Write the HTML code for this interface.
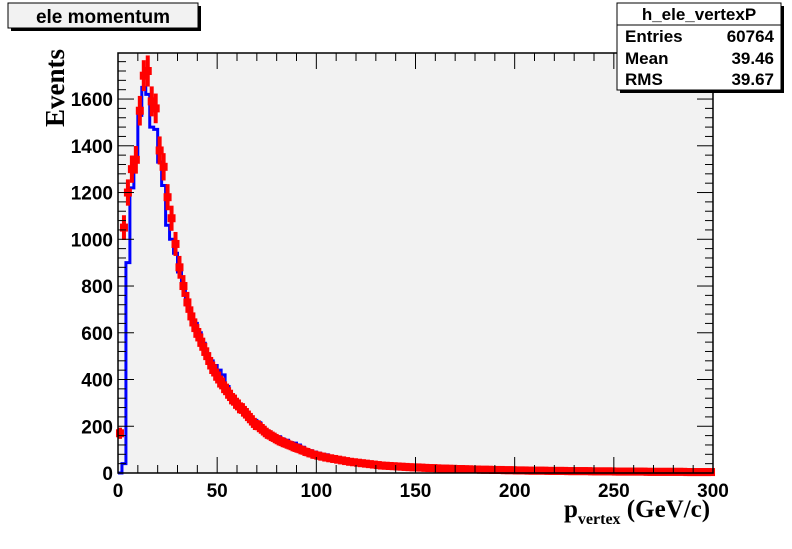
<!DOCTYPE html>
<html><head><meta charset="utf-8"><style>
body{margin:0;background:#fff;width:792px;height:544px;overflow:hidden;font-family:"Liberation Sans",sans-serif}
svg text{font-family:"Liberation Sans",sans-serif;font-weight:bold}
</style></head><body>
<svg id="c" width="792" height="544" xmlns="http://www.w3.org/2000/svg">
<rect x="0" y="0" width="792" height="544" fill="#fff"/>
<rect x="118" y="53" width="595" height="420" fill="#f2f2f2"/>
<g id="marks"></g>
<g id="axes"></g>
<rect x="118" y="53" width="595" height="420" fill="none" stroke="#000" stroke-width="1.5"/>
<g>
<rect x="11" y="6" width="190" height="25" fill="#000"/>
<rect x="8" y="3" width="190" height="25" fill="#f2f2f2" stroke="#000"/>
<text x="103" y="23" font-size="19" text-anchor="middle">ele momentum</text>
</g>
<g>
<rect x="620" y="6" width="164" height="87" fill="#000"/>
<rect x="617" y="3" width="164" height="87" fill="#fff" stroke="#000"/>
<line x1="617" y1="25" x2="781" y2="25" stroke="#000"/>
<text x="699" y="20" font-size="17" text-anchor="middle">h_ele_vertexP</text>
<text x="625" y="42" font-size="17">Entries</text><text x="774" y="42" font-size="17" text-anchor="end">60764</text>
<text x="625" y="64" font-size="17">Mean</text><text x="774" y="64" font-size="17" text-anchor="end">39.46</text>
<text x="625" y="85" font-size="17">RMS</text><text x="774" y="85" font-size="17" text-anchor="end">39.67</text>
</g>
<text transform="translate(64,88) rotate(-90)" font-size="27" text-anchor="middle" style="font-family:'Liberation Serif',serif;font-weight:bold">Events</text>
<text x="564" y="517" font-size="25" style="font-family:'Liberation Serif',serif;font-weight:bold">p<tspan font-size="16" dy="7">vertex</tspan><tspan dy="-7"> (GeV/c)</tspan></text>
</svg>
<script>
const binWidth = 2;
const xTicks = [0,50,100,150,200,250,300];
const yTicks = [0,200,400,600,800,1000,1200,1400,1600];
const blueValues = [0,40,900,1220,1350,1530,1650,1620,1480,1470,1330,1230,1060,1000,940,860,800,720,680,640,600,555,510,480,460,440,420,370,330,310,290,280,260,240,225,215,195,180,170,160,155,145,140,130,128,120,110,100,95,90,85,80,78,72,68,62,58,55,50,48,45,42,40,38,36,34,32,31,30,29,28,27,26,26,25,24,24,23,22,22,21,20,20,19,19,18,18,17,17,16,16,15,15,15,14,14,14,13,13,13,12,12,12,11,11,11,11,10,10,10,10,10,9,9,9,9,9,8,8,8,8,8,8,7,7,7,7,7,7,6,6,6,6,6,6,6,5,5,5,5,5,5,5,5,5,4,4,4,4,4];
const redValues = [170,1050,1200,1300,1340,1550,1700,1720,1590,1560,1380,1310,1180,1090,980,880,800,730,670,620,580,540,500,460,430,400,375,350,325,305,285,270,250,230,210,200,185,170,160,150,140,132,125,118,110,104,97,90,84,78,74,70,66,63,60,57,54,51,48,46,44,42,40,38,36,34,32,31,30,29,28,27,26,25,24,24,23,22,21,21,20,19,19,18,18,17,17,16,16,15,15,14,14,14,13,13,13,12,12,12,11,11,11,10,10,10,10,10,9,9,9,9,9,8,8,8,8,8,8,7,7,7,7,7,7,6,6,6,6,6,6,6,6,5,5,5,5,5,5,5,5,5,5,4,4,4,4,4,4,4];
const X0=118,X1=713,Y0=473,Y1=53,XMAX=300,YMAX=1797;
function xs(v){return X0+(v/XMAX)*(X1-X0);}
function ys(v){return Y0-(v/YMAX)*(Y0-Y1);}
const NS="http://www.w3.org/2000/svg";
const marks=document.getElementById('marks'), axes=document.getElementById('axes');
function mk(tag,attrs,parent){const e=document.createElementNS(NS,tag);for(const k in attrs)e.setAttribute(k,attrs[k]);parent.appendChild(e);return e;}
let d="M"+xs(0)+","+ys(0);
blueValues.forEach((v,i)=>{d+=" L"+xs(i*binWidth)+","+ys(v)+" L"+xs((i+1)*binWidth)+","+ys(v);});
const bl=mk('path',{d:d,fill:'none',stroke:'#0000ff','stroke-width':3},marks);


redValues.forEach((v,i)=>{
  const cx=xs((i+0.5)*binWidth), cy=ys(v);
  const err=Math.sqrt(v)*1.5;
  const g=mk('g',{},marks);
  
  
  mk('line',{x1:cx,x2:cx,y1:ys(v+err)-1,y2:Math.min(Y0,ys(Math.max(0,v-err))+1),stroke:'#ff0000','stroke-width':4},g);
  mk('rect',{x:cx-4,y:cy-4,width:8,height:8,fill:'#ff0000'},g);
});
for(let v=0;v<=XMAX;v+=10){
  const x=xs(v), major=v%50===0;
  mk('line',{x1:x,x2:x,y1:Y0,y2:Y0-(major?16:8),stroke:'#000'},axes);
  mk('line',{x1:x,x2:x,y1:Y1,y2:Y1+(major?16:8),stroke:'#000'},axes);
}
xTicks.forEach(v=>{const t=mk('text',{x:xs(v),y:Y0+24,'font-size':19,'text-anchor':'middle'},axes);t.textContent=v;

});
for(let v=0;v<=1780;v+=40){
  const y=ys(v), major=v%200===0;
  mk('line',{x1:X0,x2:X0+(major?16:8),y1:y,y2:y,stroke:'#000'},axes);
  mk('line',{x1:X1,x2:X1-(major?16:8),y1:y,y2:y,stroke:'#000'},axes);
}
yTicks.forEach(v=>{const t=mk('text',{x:X0-5,y:ys(v)+7,'font-size':19,'text-anchor':'end'},axes);t.textContent=v;

});
</script>
</body></html>
